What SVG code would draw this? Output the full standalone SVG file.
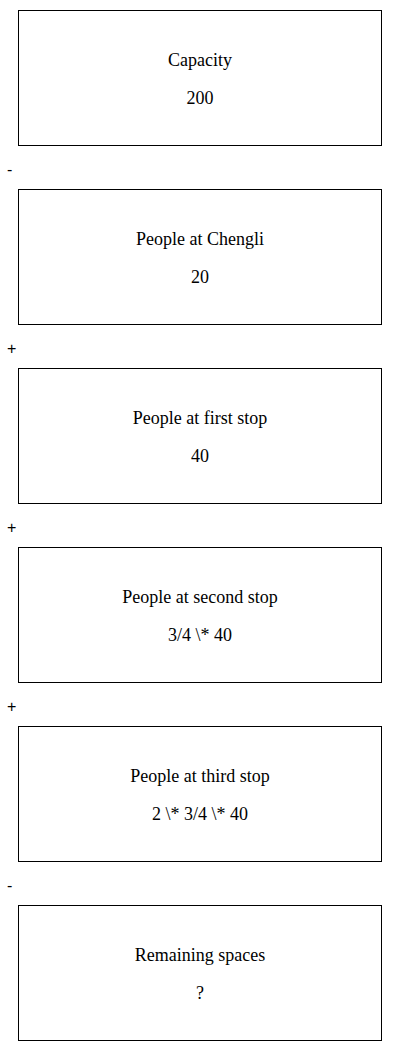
<svg xmlns="http://www.w3.org/2000/svg" width="400" height="1051" viewBox="0 0 400 1051">
<style>
.box{fill:#fff;stroke:#000;stroke-width:1}
.t{font-family:"Liberation Serif",serif;font-size:18px;fill:#000;text-anchor:middle}
.op{font-family:"Liberation Sans",sans-serif;font-size:16px;fill:#000}
</style>
<rect width="400" height="1051" fill="#fff"/>
<g id="n1"><rect class="box" x="18.5" y="10.5" width="363" height="135"/><text class="t" x="200" y="65.5">Capacity</text><text class="t" x="200" y="104">200</text></g>
<g id="n2"><rect class="box" x="18.5" y="189.5" width="363" height="135"/><text class="t" x="200" y="244.5">People at Chengli</text><text class="t" x="200" y="283">20</text></g>
<g id="n3"><rect class="box" x="18.5" y="368.5" width="363" height="135"/><text class="t" x="200" y="423.5">People at first stop</text><text class="t" x="200" y="462">40</text></g>
<g id="n4"><rect class="box" x="18.5" y="547.5" width="363" height="135"/><text class="t" x="200" y="602.5">People at second stop</text><text class="t" x="200" y="641">3/4 \* 40</text></g>
<g id="n5"><rect class="box" x="18.5" y="726.5" width="363" height="135"/><text class="t" x="200" y="781.5">People at third stop</text><text class="t" x="200" y="820">2 \* 3/4 \* 40</text></g>
<g id="n6"><rect class="box" x="18.5" y="905.5" width="363" height="135"/><text class="t" x="200" y="960.5">Remaining spaces</text><text class="t" x="200" y="999">?</text></g>
<g id="connectors">
<text class="op" x="7" y="175">-</text>
<text class="op" x="7" y="354">+</text>
<text class="op" x="7" y="533">+</text>
<text class="op" x="7" y="712">+</text>
<text class="op" x="7" y="891">-</text>
</g>
</svg>
